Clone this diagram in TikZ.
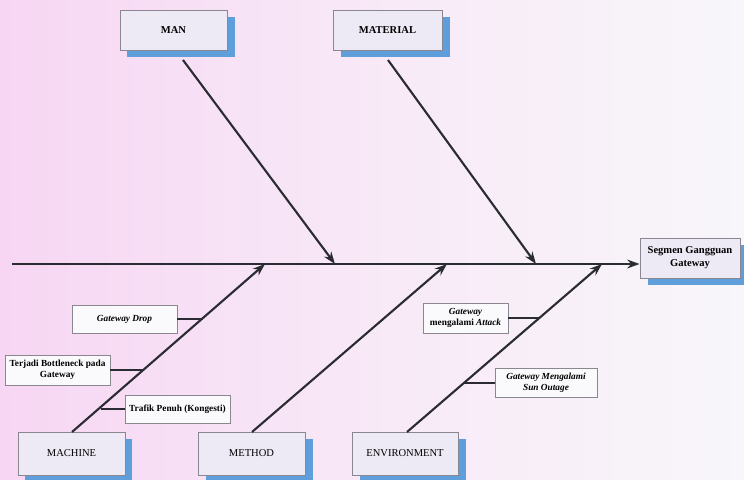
\documentclass[tikz,border=0pt]{standalone}
\usepackage{fontspec}
\setmainfont{Liberation Serif}
\usetikzlibrary{arrows.meta,shadows}
\definecolor{bgpink}{HTML}{F7D6F3}
\definecolor{bgwhite}{HTML}{F8F6FA}
\definecolor{boxfill}{HTML}{EEEAF5}
\definecolor{boxedge}{HTML}{8A8790}
\definecolor{shadowblue}{HTML}{5E9FDB}
\definecolor{bone}{HTML}{2B2B33}
\begin{document}
\begin{tikzpicture}[x=0.02cm,y=-0.02cm,
  category/.style={draw=boxedge, line width=0.5pt, fill=boxfill, inner sep=0pt,
    font=\fontsize{6}{7}\selectfont,
    drop shadow={shadow xshift=0.15cm, shadow yshift=-0.14cm, fill=shadowblue, opacity=1}},
  cause/.style={draw=boxedge, line width=0.5pt, fill=white!70!boxfill, inner sep=0pt,
    align=center, font=\fontsize{5.3}{6}\selectfont\bfseries},
  bone/.style={draw=bone, line width=1.2pt},
  arrowbone/.style={bone, -{Stealth[length=7pt,width=5pt]}},
  twig/.style={draw=bone, line width=1.1pt}]
  % background
  \shade[left color=bgpink, right color=bgwhite, middle color=bgwhite!60!bgpink, shading angle=90]
    (0,0) rectangle (744,480);
  \useasboundingbox (0,0) rectangle (744,480);

  % category boxes
  \node[category, minimum width=107*0.02cm, minimum height=40*0.02cm, font=\fontsize{6}{7}\selectfont\bfseries]
    (man) at (173.5,30) {MAN};
  \node[category, minimum width=109*0.02cm, minimum height=40*0.02cm, font=\fontsize{6}{7}\selectfont\bfseries]
    (material) at (387.5,30) {MATERIAL};
  \node[category, minimum width=107*0.02cm, minimum height=43*0.02cm] (machine) at (71.5,453.5) {MACHINE};
  \node[category, minimum width=107*0.02cm, minimum height=43*0.02cm] (method) at (251.5,453.5) {METHOD};
  \node[category, minimum width=106*0.02cm, minimum height=43*0.02cm] (environment) at (405,453.5) {ENVIRONMENT};

  % effect box
  \node[category, minimum width=100*0.02cm, minimum height=40*0.02cm, align=center,
    font=\fontsize{6}{7.5}\selectfont\bfseries] (effect) at (690,258) {Segmen Gangguan\\Gateway};

  % spine
  \coordinate (tail) at (12,264);
  \coordinate (s1) at (265,264);
  \coordinate (s2) at (335,264);
  \coordinate (s3) at (447,264);
  \coordinate (s4) at (536,264);
  \coordinate (s5) at (602,264);
  \draw[arrowbone] (tail) -- (effect.west |- tail);

  % upper bones
  \coordinate (manfoot) at (183,60);
  \coordinate (matfoot) at (388,60);
  \draw[arrowbone] (manfoot) -- (s2);
  \draw[arrowbone] (matfoot) -- (s4);

  % lower bones
  \coordinate (machtop) at (72,432);
  \coordinate (methtop) at (252,432);
  \coordinate (envtop) at (407,432);
  \draw[arrowbone] (machtop) -- (s1);
  \draw[arrowbone] (methtop) -- (s3);
  \draw[arrowbone] (envtop) -- (s5);

  % machine causes
  \node[cause, minimum width=105*0.02cm, minimum height=28*0.02cm] (drop) at (124.5,319)
    {\itshape Gateway Drop};
  \node[cause, minimum width=105*0.02cm, minimum height=30*0.02cm] (bottleneck) at (57.5,370)
    {Terjadi Bottleneck pada\\Gateway};
  \node[cause, minimum width=105*0.02cm, minimum height=28*0.02cm] (trafik) at (177.5,409)
    {Trafik Penuh (Kongesti)};
  \coordinate (m1) at (202.5,319);
  \coordinate (m2) at (143.7,370);
  \coordinate (m3) at (100.6,409);
  \draw[twig] (drop.east) -- (m1);
  \draw[twig] (bottleneck.east) -- (m2);
  \draw[twig] (m3) -- (trafik.west);

  % environment causes
  \node[cause, minimum width=85*0.02cm, minimum height=30*0.02cm] (attack) at (465.5,318)
    {\itshape Gateway\\\upshape mengalami \itshape Attack};
  \node[cause, minimum width=102*0.02cm, minimum height=29*0.02cm] (outage) at (546,383)
    {\itshape Gateway Mengalami\\\itshape Sun Outage};
  \coordinate (e1) at (540,318);
  \coordinate (e2) at (464,383);
  \draw[twig] (attack.east) -- (e1);
  \draw[twig] (e2) -- (outage.west);
\end{tikzpicture}
\end{document}
